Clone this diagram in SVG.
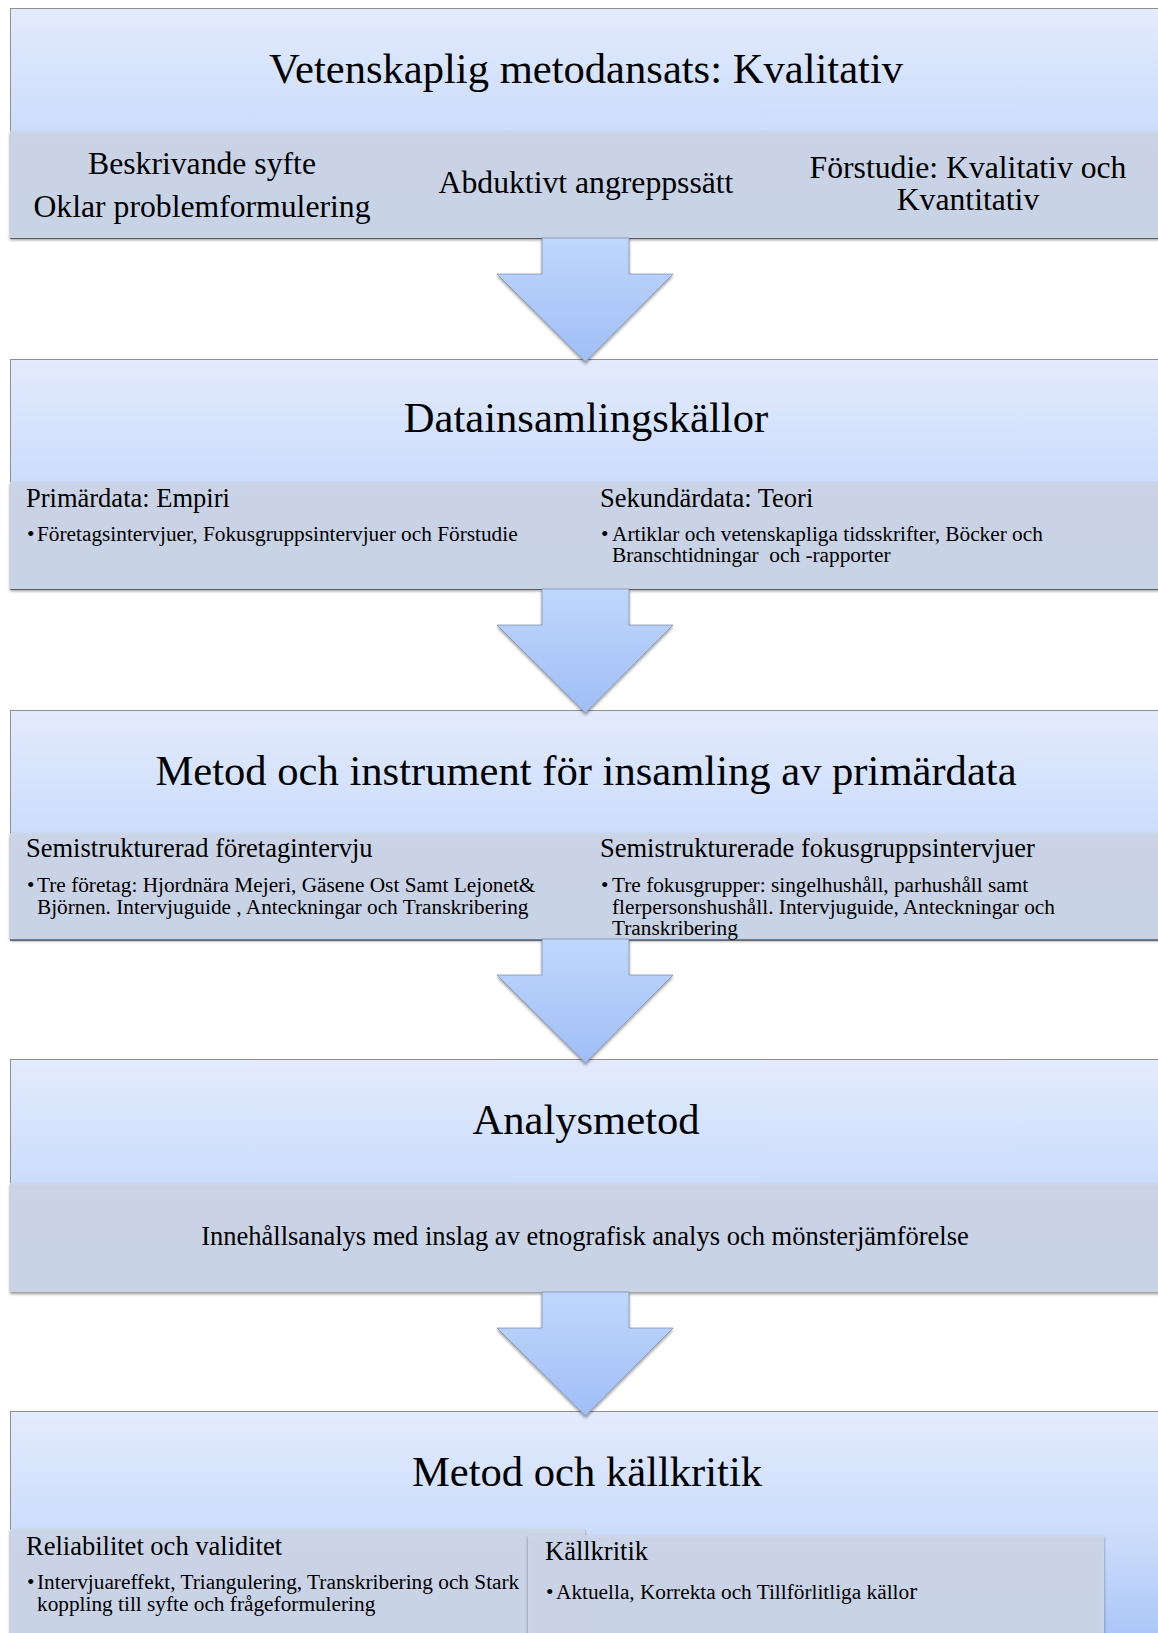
<svg xmlns="http://www.w3.org/2000/svg" width="1158" height="1633" viewBox="0 0 1158 1633">
  <style>
    text { font-family: "Liberation Serif", "Times New Roman", serif; fill: #000; }
    .title { font-size: 42.6px; text-anchor: middle; }
    .big { font-size: 31.7px; text-anchor: middle; }
    .head { font-size: 26.5px; }
    .mid { text-anchor: middle; }
    .item { font-size: 21.3px; }
    .box { fill: url(#boxFill); stroke: #8f8f8f; stroke-width: 1; }
    .band { fill: #cdd6e8; opacity: 0.93; }
    .arrow { fill: url(#arrowFill); stroke: #6c7c96; stroke-opacity: 0.6; stroke-width: 1; }
  </style>
  <defs>
    <linearGradient id="boxFill" x1="0" y1="0" x2="0" y2="1">
      <stop offset="0" stop-color="#e3ebfd"/>
      <stop offset="0.55" stop-color="#cbdcfb"/>
      <stop offset="1" stop-color="#a8c4f7"/>
    </linearGradient>
    <linearGradient id="arrowFill" x1="0" y1="0" x2="0" y2="1">
      <stop offset="0" stop-color="#c0d6fc"/>
      <stop offset="1" stop-color="#a0bff7"/>
    </linearGradient>
    <filter id="bandShadow" x="-3%" y="-10%" width="106%" height="130%">
      <feDropShadow dx="0" dy="2" stdDeviation="1.6" flood-color="#000" flood-opacity="0.45"/>
    </filter>
    <filter id="arrowShadow" x="-10%" y="-10%" width="120%" height="125%">
      <feDropShadow dx="0" dy="2" stdDeviation="1.5" flood-color="#000" flood-opacity="0.4"/>
    </filter>
    <!-- block arrow, shaft starts at y=0 (bottom of the band above) -->
    <path id="downArrow" d="M542,0 H629 V36 H673 L585.5,124 L497,36 H542 Z"/>
  </defs>

  <rect width="1158" height="1633" fill="#fff"/>

  <!-- Step 1 -->
  <g id="node-metodansats">
    <rect class="box" x="10.5" y="8.5" width="1152" height="230"/>
    <g filter="url(#bandShadow)">
      <rect class="band" x="10" y="131" width="1152" height="107"/>
    </g>
    <text class="title" x="586" y="83">Vetenskaplig metodansats: Kvalitativ</text>
    <text class="big" x="202" y="174">Beskrivande syfte</text>
    <text class="big" x="202" y="217">Oklar problemformulering</text>
    <text class="big" x="586" y="193">Abduktivt angreppssätt</text>
    <text class="big" x="968" y="178">Förstudie: Kvalitativ och</text>
    <text class="big" x="968" y="210">Kvantitativ</text>
  </g>

  <!-- Step 2 -->
  <g id="node-datainsamling">
    <rect class="box" x="10.5" y="359.5" width="1152" height="230"/>
    <g filter="url(#bandShadow)">
      <rect class="band" x="10" y="482" width="1152" height="107"/>
    </g>
    <text class="title" x="586" y="432">Datainsamlingskällor</text>
    <text class="head" x="26" y="507">Primärdata: Empiri</text>
    <text class="item" x="27" y="541">•</text>
    <text class="item" x="37" y="541">Företagsintervjuer, Fokusgruppsintervjuer och Förstudie</text>
    <text class="head" x="600" y="507">Sekundärdata: Teori</text>
    <text class="item" x="601" y="541">•</text>
    <text class="item" x="612" y="541">Artiklar och vetenskapliga tidsskrifter, Böcker och</text>
    <text class="item" x="612" y="562" xml:space="preserve">Branschtidningar  och -rapporter</text>
  </g>

  <!-- Step 3 -->
  <g id="node-primardata">
    <rect class="box" x="10.5" y="710.5" width="1152" height="230"/>
    <g filter="url(#bandShadow)">
      <rect class="band" x="10" y="833" width="1152" height="106"/>
    </g>
    <text class="title" x="586" y="785">Metod och instrument för insamling av primärdata</text>
    <text class="head" x="26" y="857">Semistrukturerad företagintervju</text>
    <text class="item" x="27" y="892">•</text>
    <text class="item" x="37" y="892">Tre företag: Hjordnära Mejeri, Gäsene Ost Samt Lejonet&amp;</text>
    <text class="item" x="37" y="913.5">Björnen. Intervjuguide , Anteckningar och Transkribering</text>
    <text class="head" x="600" y="857">Semistrukturerade fokusgruppsintervjuer</text>
    <text class="item" x="601" y="892">•</text>
    <text class="item" x="612" y="892">Tre fokusgrupper: singelhushåll, parhushåll samt</text>
    <text class="item" x="612" y="913.5">flerpersonshushåll. Intervjuguide, Anteckningar och</text>
    <text class="item" x="612" y="935">Transkribering</text>
  </g>

  <!-- Step 4 -->
  <g id="node-analysmetod">
    <rect class="box" x="10.5" y="1059.5" width="1152" height="232"/>
    <g filter="url(#bandShadow)">
      <rect class="band" x="10" y="1183" width="1152" height="109"/>
    </g>
    <text class="title" x="586" y="1134">Analysmetod</text>
    <text class="head mid" x="585" y="1245">Innehållsanalys med inslag av etnografisk analys och mönsterjämförelse</text>
  </g>

  <!-- Step 5 -->
  <g id="node-kallkritik">
    <rect class="box" x="10.5" y="1411.5" width="1152" height="232"/>
    <g filter="url(#bandShadow)">
      <rect class="band" x="10" y="1529" width="575" height="120"/>
    </g>
    <g filter="url(#bandShadow)">
      <rect class="band" x="528" y="1535" width="576" height="115"/>
    </g>
    <text class="title" x="587" y="1486">Metod och källkritik</text>
    <text class="head" x="26" y="1555">Reliabilitet och validitet</text>
    <text class="item" x="27" y="1589">•</text>
    <text class="item" x="37" y="1589">Intervjuareffekt, Triangulering, Transkribering och Stark</text>
    <text class="item" x="37" y="1610.5">koppling till syfte och frågeformulering</text>
    <text class="head" x="545" y="1560">Källkritik</text>
    <text class="item" x="546" y="1599">•</text>
    <text class="item" x="556" y="1599">Aktuella, Korrekta och Tillförlitliga källo<tspan font-size="24">r</tspan></text>
  </g>

  <!-- connectors between the steps -->
  <g id="connectors" filter="url(#arrowShadow)">
    <use class="arrow" href="#downArrow" y="238"/>
    <use class="arrow" href="#downArrow" y="589"/>
    <use class="arrow" href="#downArrow" y="939"/>
    <use class="arrow" href="#downArrow" y="1292"/>
  </g>
</svg>
